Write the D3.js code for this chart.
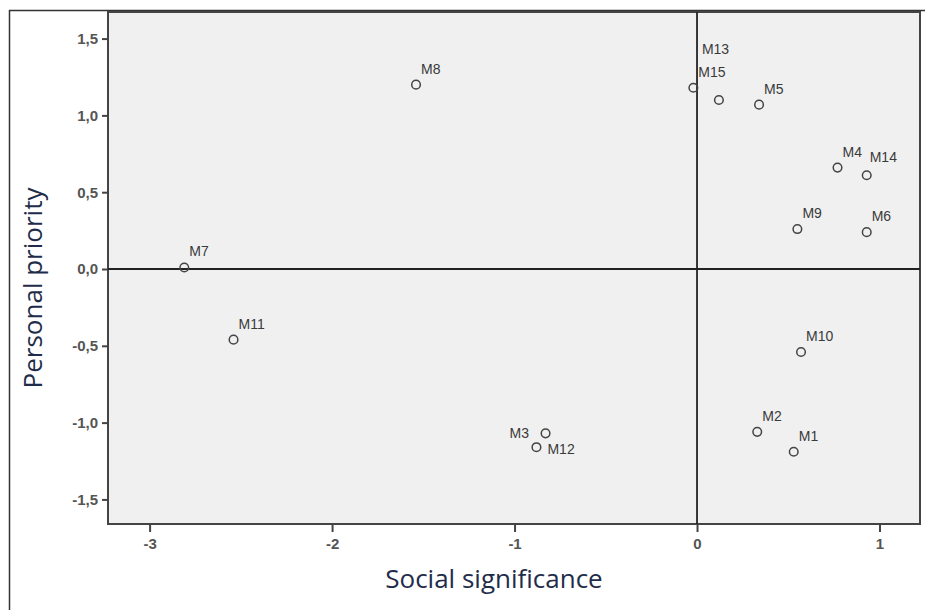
<!DOCTYPE html>
<html>
  <head>
    <meta charset="UTF-8">
    <title>Social significance vs personal priority</title>
    <script src="https://cdn.jsdelivr.net/npm/d3@7/dist/d3.min.js"></script>
    <style>
      body { margin: 0; background: #fff; }
      .tick text { font-family: Arial, "Liberation Sans", sans-serif; font-size: 15px; fill: #555; font-weight: bold; }
      .lbl { font-family: Arial, "Liberation Sans", sans-serif; font-size: 14px; fill: #3a3a3a; }
      .title { font-family: "Open Sans", "Noto Sans", sans-serif; font-size: 26px; fill: #1f2d4a; }
    </style>
  </head>
  <body>
    <script>
      // chart data
      var names = ["M1", "M2", "M3", "M4", "M5", "M6", "M7", "M8", "M9", "M10", "M11", "M12", "M13", "M14", "M15"];
      var social = [0.53, 0.33, -0.83, 0.77, 0.34, 0.93, -2.81, -1.54, 0.55, 0.57, -2.54, -0.88, 0.12, 0.93, -0.02];
      var personal = [-1.19, -1.06, -1.07, 0.66, 1.07, 0.24, 0.01, 1.20, 0.26, -0.54, -0.46, -1.16, 1.10, 0.61, 1.18];
      var xTicks = [-3, -2, -1, 0, 1];
      var yTicks = [-1.5, -1.0, -0.5, 0.0, 0.5, 1.0, 1.5];

      // label nudges where labels were moved to avoid overlap
      var nudge = {
        M3: { dx: -36, dy: 5 },
        M12: { dx: 11, dy: 7 },
        M13: { dx: -17, dy: -46 },
        M14: { dx: 3, dy: -13 }
      };

      var W = 925, H = 610;
      var pLeft = 108, pRight = 920, pTop = 12, pBottom = 524;

      var svg = d3.select("body").append("svg")
        .attr("width", W)
        .attr("height", H);

      var x = d3.scaleLinear().domain([-3.228, 1.222]).range([pLeft, pRight]);
      var y = d3.scaleLinear().domain([-1.66, 1.673]).range([pBottom, pTop]);

      // outer frame (cropped picture border)
      svg.append("line").attr("x1", 9.5).attr("x2", 9.5).attr("y1", 10).attr("y2", H)
        .attr("stroke", "#333").attr("stroke-width", 1.5);
      svg.append("line").attr("x1", 9).attr("x2", W).attr("y1", 10.5).attr("y2", 10.5)
        .attr("stroke", "#333").attr("stroke-width", 1.5);

      // plot area
      svg.append("rect")
        .attr("x", pLeft).attr("y", pTop)
        .attr("width", pRight - pLeft).attr("height", pBottom - pTop)
        .attr("fill", "#f0f0f0")
        .attr("stroke", "#444").attr("stroke-width", 2);

      // axes
      var xAxis = svg.append("g")
        .attr("transform", "translate(0," + pBottom + ")")
        .call(d3.axisBottom(x).tickValues(xTicks).tickSize(8).tickPadding(6)
          .tickFormat(function (d) { return String(d); }));
      var yAxis = svg.append("g")
        .attr("transform", "translate(" + pLeft + ",0)")
        .call(d3.axisLeft(y).tickValues(yTicks).tickSize(6).tickPadding(4)
          .tickFormat(function (d) { return d.toFixed(1).replace(".", ","); }));
      [xAxis, yAxis].forEach(function (g) {
        g.select(".domain").remove();
        g.selectAll(".tick line").attr("stroke", "#444").attr("stroke-width", 2);
      });

      // reference lines at zero
      svg.append("line")
        .attr("x1", x(0)).attr("x2", x(0)).attr("y1", pTop).attr("y2", pBottom)
        .attr("stroke", "#222").attr("stroke-width", 1.8);
      svg.append("line")
        .attr("x1", pLeft).attr("x2", pRight).attr("y1", y(0)).attr("y2", y(0))
        .attr("stroke", "#222").attr("stroke-width", 1.8);

      var points = names.map(function (n, i) {
        return { name: n, sx: social[i], py: personal[i] };
      });

      // markers
      svg.selectAll(".pt")
        .data(points)
        .enter().append("circle")
        .attr("class", "pt")
        .attr("cx", function (d) { return x(d.sx); })
        .attr("cy", function (d) { return y(d.py); })
        .attr("r", 4.3)
        .attr("fill", "none")
        .attr("stroke", "#444")
        .attr("stroke-width", 1.5);

      // marker labels
      svg.selectAll(".lbl")
        .data(points)
        .enter().append("text")
        .attr("class", "lbl")
        .attr("x", function (d) { return x(d.sx) + (nudge[d.name] ? nudge[d.name].dx : 5); })
        .attr("y", function (d) { return y(d.py) + (nudge[d.name] ? nudge[d.name].dy : -11); })
        .text(function (d) { return d.name; });

      // axis titles
      svg.append("text")
        .attr("class", "title")
        .attr("x", 494)
        .attr("y", 588)
        .attr("text-anchor", "middle")
        .text("Social significance");
      svg.append("text")
        .attr("class", "title")
        .attr("transform", "translate(42,288) rotate(-90)")
        .attr("text-anchor", "middle")
        .text("Personal priority");
    </script>
  </body>
</html>
